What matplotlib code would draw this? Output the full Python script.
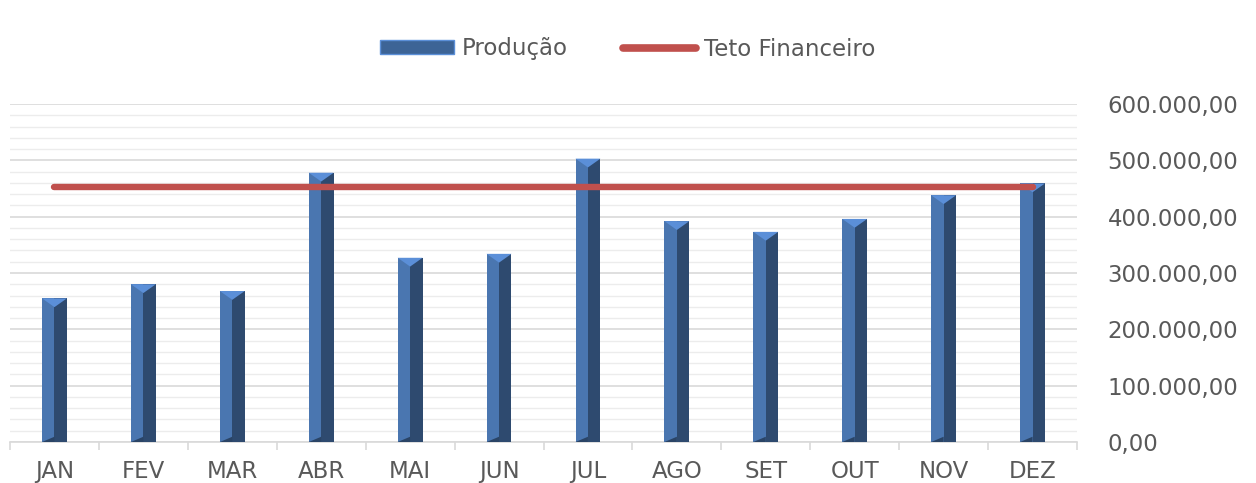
import matplotlib
matplotlib.use("Agg")
import matplotlib.pyplot as plt
from matplotlib.patches import Polygon, Patch
from matplotlib.lines import Line2D
from matplotlib.ticker import MultipleLocator, FuncFormatter

meses = ["JAN", "FEV", "MAR", "ABR", "MAI", "JUN", "JUL", "AGO", "SET", "OUT", "NOV", "DEZ"]
producao = [255000, 280000, 268000, 478000, 327000, 334000, 503000, 392000, 373000, 396000, 438000, 459000]
teto = [452000] * 12

plt.rcParams["font.family"] = ["DejaVu Sans"]
fig = plt.figure(figsize=(12.56, 4.83), dpi=100)
ax = fig.add_axes([10 / 1256, 41 / 483, 1067 / 1256, 338 / 483])

x = list(range(len(meses)))
w = 0.28
c_left = "#4a76b0"
c_right = "#2e4a6f"
c_top = "#5b8fd8"

ax.bar(x, producao, width=w, color=c_left, zorder=3, linewidth=0)
ax.bar([i for i in x], producao, width=w / 2, align="edge", color=c_right, zorder=3, linewidth=0)

ymax = 600000
cap = ymax * 0.026
for i, v in zip(x, producao):
    tri = Polygon([(i - w / 2, v), (i + w / 2, v), (i, v - cap)], closed=True,
                  facecolor=c_top, edgecolor="none", zorder=4)
    ax.add_patch(tri)
    bot = Polygon([(i - w / 2, 0), (i, cap * 0.6), (i, 0)], closed=True,
                  facecolor="#2a4466", edgecolor="none", zorder=4)
    ax.add_patch(bot)

ax.plot(x, teto, color="#c0504d", lw=4.6, solid_capstyle="round", zorder=5)

ax.set_xlim(-0.5, len(meses) - 0.5)
ax.set_ylim(0, ymax)
ax.yaxis.set_major_locator(MultipleLocator(100000))
ax.yaxis.set_minor_locator(MultipleLocator(20000))
ax.grid(axis="y", which="major", color="#d9d9d9", lw=1.2, zorder=0)
ax.grid(axis="y", which="minor", color="#ececec", lw=1.0, zorder=0)

def fmt(v, pos):
    if v == 0:
        return "0,00"
    s = f"{int(round(v)):,}".replace(",", ".")
    return s + ",00"

ax.yaxis.set_major_formatter(FuncFormatter(fmt))
ax.yaxis.tick_right()
ax.tick_params(axis="y", which="both", length=0, pad=22, labelsize=16.5, labelcolor="#595959")
for lab in ax.get_yticklabels():
    lab.set_horizontalalignment("left")

ax.set_xticks(x)
ax.set_xticklabels(meses)
ax.tick_params(axis="x", which="major", length=0, pad=13, labelsize=16.5, labelcolor="#595959")
ax.set_xticks([i - 0.5 for i in range(len(meses) + 1)], minor=True)
ax.tick_params(axis="x", which="minor", length=6, color="#d9d9d9", width=1.2)

for s in ["top", "left", "right"]:
    ax.spines[s].set_visible(False)
ax.spines["bottom"].set_color("#d9d9d9")
ax.spines["bottom"].set_linewidth(1.2)

handles = [Patch(facecolor="#3d6496", edgecolor="#5b8fd8", linewidth=1.0),
           Line2D([0], [0], color="#c0504d", lw=5.5, solid_capstyle="round")]
leg = fig.legend(handles, ["Produção", "Teto Financeiro"], loc="center",
                 bbox_to_anchor=(0.5, 1 - 49 / 483), ncol=2, frameon=False,
                 fontsize=16.5, labelcolor="#595959", handlelength=3.2, handleheight=0.55,
                 handletextpad=0.35, columnspacing=2.4)

fig.savefig("out.png", dpi=100)
